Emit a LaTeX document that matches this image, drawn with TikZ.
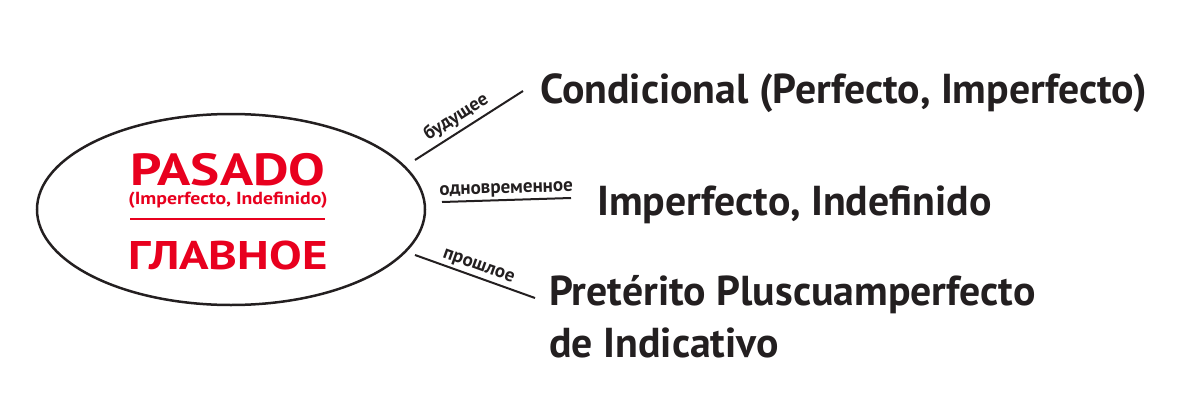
\documentclass[tikz,border=0pt]{standalone}
\usepackage{fontspec}
\setmainfont{PT Sans}
\usetikzlibrary{shapes.geometric}
\definecolor{pasred}{RGB}{232,0,30}
\definecolor{ink}{RGB}{35,31,32}
\tikzset{
  bigtxt/.style={anchor=base west, inner sep=0pt, text=ink, font=\fontsize{41.8}{50}\selectfont\bfseries},
  redtxt/.style={inner sep=0pt, text=pasred, anchor=base},
  conn/.style={draw=ink, line width=2pt},
  lab/.style={text=ink, font=\fontsize{19}{21}\selectfont\bfseries, inner sep=2pt}
}
\begin{document}
\begin{tikzpicture}[x=1pt,y=-1pt]
\useasboundingbox (0,0) rectangle (1180,420);
\node[ellipse, draw=ink, line width=2.5pt, minimum width=388pt, minimum height=191pt, inner sep=0pt] (ell) at (231,209.5) {};
\node[redtxt, font=\fontsize{45}{50}\selectfont\bfseries] (pas) at (228,185) {\scalebox{1.22}[1]{PASADO}};
\node[redtxt, font=\fontsize{17.5}{20}\selectfont\bfseries] (paren) at (228,204) {\scalebox{1.13}[1]{(Imperfecto, Indefinido)}};
\draw[pasred, line width=2pt] (130,219) coordinate (rl) -- (325,219) coordinate (rr);
\node[redtxt, font=\fontsize{40}{46}\selectfont\bfseries] (glav) at (228,269) {\scalebox{1.22}[1]{ГЛАВНОЕ}};

\node[bigtxt] (cond) at (540,103) {Condicional (Perfecto, Imperfecto)};
\node[bigtxt] (impf) at (597,215) {Imperfecto, Indefinido};
\node[bigtxt] (plus) at (549,305) {Pretérito Pluscuamperfecto};
\node[bigtxt] (indic) at (549,357) {de Indicativo};

\coordinate (a1) at (415,160); \coordinate (b1) at (523,91);
\coordinate (a2) at (442,202); \coordinate (b2) at (571,198);
\coordinate (a3) at (415,255); \coordinate (b3) at (535,298);
\draw[conn] (a1) -- node[lab, sloped, above=2pt, pos=0.45] {будущее} (b1);
\draw[conn] (a2) -- node[lab, sloped, above, pos=0.5] {одновременное} (b2);
\draw[conn] (a3) -- node[lab, sloped, above, pos=0.5] {прошлое} (b3);
\end{tikzpicture}
\end{document}
